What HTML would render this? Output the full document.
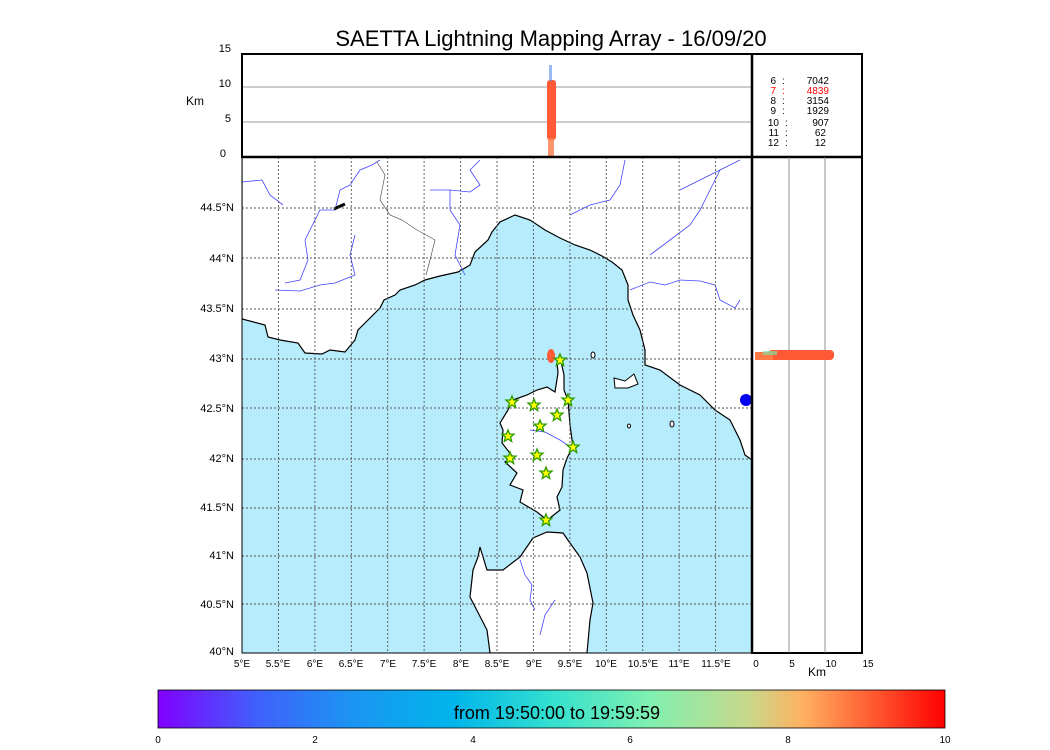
<!DOCTYPE html>
<html><head><meta charset="utf-8"><style>body{margin:0;background:#fff}svg{display:block;font-family:"Liberation Sans",sans-serif}</style></head><body>
<svg width="1050" height="750" viewBox="0 0 1050 750">
<defs>
<linearGradient id="rb" x1="0" x2="1" y1="0" y2="0">
<stop offset="0" stop-color="#8000ff"/><stop offset="0.125" stop-color="#4060fb"/><stop offset="0.25" stop-color="#1a96f2"/><stop offset="0.375" stop-color="#00b5eb"/><stop offset="0.5" stop-color="#33e0d0"/><stop offset="0.625" stop-color="#80f0b0"/><stop offset="0.75" stop-color="#c8d88a"/><stop offset="0.82" stop-color="#ffb060"/><stop offset="1" stop-color="#ff0000"/>
</linearGradient>
<clipPath id="mc"><rect x="242" y="157" width="510" height="496"/></clipPath>
<g id="star"><polygon points="0,-6 1.6,-2 6,-1.9 2.6,1 3.7,5.5 0,3 -3.7,5.5 -2.6,1 -6,-1.9 -1.6,-2" fill="#ffff00" stroke="#2a9a00" stroke-width="1.3"/></g>
</defs>
<text x="551" y="46" font-size="22" text-anchor="middle">SAETTA Lightning Mapping Array - 16/09/20</text>
<g clip-path="url(#mc)">
<rect x="242" y="157" width="510" height="496" fill="#b6ecfb"/>
<polygon fill="#fff" stroke="#000" stroke-width="1.2" points="242,319 265,325 268,337 280,340 298,343 305,353 322,354 330,350 345,352 355,340 358,330 368,320 380,308 384,300 395,295 400,290 415,285 425,280 440,276 458,272 470,265 475,252 488,240 492,232 500,222 515,215 530,220 545,230 560,238 575,245 590,250 602,256 612,262 622,270 628,285 628,300 633,315 640,330 645,350 645,365 660,370 680,385 700,395 715,410 730,420 740,440 745,455 752,460 752,157 242,157"/>
<polygon fill="#fff" stroke="#000" stroke-width="1.2" points="560,357 564,375 564,390 568,400 570,425 573,447 567,458 563,470 562,487 557,497 560,510 550,518 547,520 537,512 520,502 523,490 510,485 517,473 505,462 513,457 502,443 503,430 500,423 508,410 513,400 527,395 537,390 547,387 555,392 558,373 557,362"/>
<polygon fill="#fff" stroke="#000" stroke-width="1.2" points="547,532 563,533 570,543 580,557 587,573 593,603 590,620 587,653 490,653 487,630 470,597 473,570 478,557 480,547 487,570 503,570 520,557 533,538"/>
<polygon fill="#fff" stroke="#000" stroke-width="1" points="614,378 625,381 634,374 638,384 628,388 615,388"/>
<ellipse cx="593" cy="355" rx="2" ry="3" fill="#fff" stroke="#000"/>
<ellipse cx="629" cy="426" rx="1.5" ry="2" fill="#fff" stroke="#000"/>
<ellipse cx="672" cy="424" rx="2" ry="3" fill="#fff" stroke="#000"/>
<g fill="none" stroke="#4444ff" stroke-width="0.8">
<polyline points="242,182 262,180 270,195 283,205"/>
<polyline points="285,283 300,280 308,260 305,240 320,210 335,210 340,190 350,185 360,170 372,165 380,160"/>
<polyline points="275,290 300,291 320,285 335,283 355,275 350,255 355,235"/>
<polyline points="430,190 450,190 470,192 480,185 470,170 480,160"/>
<polyline points="465,275 455,255 460,225 450,210 450,190"/>
<polyline points="570,215 590,205 610,200 620,185 625,160"/>
<polyline points="650,255 670,240 690,225 700,210 710,190 720,170"/>
<polyline points="680,190 700,180 720,170 740,160"/>
<polyline points="630,290 650,282 665,285 680,280 700,281 715,285 720,300 735,308 740,300"/>
<polyline points="530,430 545,432 560,440 572,448"/>
<polyline points="520,560 525,575 532,585 530,600 535,610"/>
<polyline points="555,600 545,615 540,635"/>
</g>
<polyline points="377,162 385,175 380,200 390,215 402,220 417,230 435,240 430,260 426,275" fill="none" stroke="#555" stroke-width="0.7"/>
<path d="M334,209 L345,204" stroke="#000" stroke-width="3"/>
<g stroke="#555" stroke-width="0.9" stroke-dasharray="2,2">
<line x1="278.4" y1="157" x2="278.4" y2="653"/><line x1="314.9" y1="157" x2="314.9" y2="653"/><line x1="351.3" y1="157" x2="351.3" y2="653"/><line x1="387.7" y1="157" x2="387.7" y2="653"/><line x1="424.1" y1="157" x2="424.1" y2="653"/><line x1="460.6" y1="157" x2="460.6" y2="653"/><line x1="497" y1="157" x2="497" y2="653"/><line x1="533.4" y1="157" x2="533.4" y2="653"/><line x1="569.9" y1="157" x2="569.9" y2="653"/><line x1="606.3" y1="157" x2="606.3" y2="653"/><line x1="642.7" y1="157" x2="642.7" y2="653"/><line x1="679.1" y1="157" x2="679.1" y2="653"/><line x1="715.6" y1="157" x2="715.6" y2="653"/>
<line x1="242" y1="208" x2="752" y2="208"/><line x1="242" y1="258" x2="752" y2="258"/><line x1="242" y1="309" x2="752" y2="309"/><line x1="242" y1="359" x2="752" y2="359"/><line x1="242" y1="408" x2="752" y2="408"/><line x1="242" y1="459" x2="752" y2="459"/><line x1="242" y1="508" x2="752" y2="508"/><line x1="242" y1="556" x2="752" y2="556"/><line x1="242" y1="604" x2="752" y2="604"/>
</g>
<ellipse cx="551" cy="356" rx="4" ry="7" fill="#ff5a35"/>
<circle cx="746" cy="400" r="6" fill="#0000ee"/>
<use href="#star" x="560" y="360"/><use href="#star" x="512" y="402"/><use href="#star" x="534" y="405"/><use href="#star" x="568" y="400"/><use href="#star" x="557" y="415"/><use href="#star" x="540" y="426"/><use href="#star" x="508" y="436"/><use href="#star" x="573" y="447"/><use href="#star" x="510" y="458"/><use href="#star" x="537" y="455"/><use href="#star" x="546" y="473"/><use href="#star" x="546" y="520"/>
</g>
<rect x="242" y="157" width="510" height="496" fill="none" stroke="#000" stroke-width="1"/>
<line x1="242" y1="87" x2="752" y2="87" stroke="#777" stroke-width="0.8"/>
<line x1="242" y1="122" x2="752" y2="122" stroke="#777" stroke-width="0.8"/>
<rect x="547" y="80" width="9" height="60" rx="3" fill="#ff5a35"/>
<rect x="548" y="138" width="6" height="19" fill="#ff7a45" opacity="0.8"/>
<rect x="549" y="65" width="3" height="16" fill="#5a8cf0" opacity="0.6"/>
<rect x="242" y="54" width="510" height="103" fill="none" stroke="#000" stroke-width="2"/>
<rect x="752" y="54" width="110" height="599" fill="none" stroke="#000" stroke-width="2"/>
<line x1="752" y1="157" x2="862" y2="157" stroke="#000" stroke-width="2.5"/>
<line x1="242" y1="157" x2="752" y2="157" stroke="#000" stroke-width="2.5"/>
<line x1="752" y1="54" x2="752" y2="653" stroke="#000" stroke-width="2.5"/>
<line x1="789" y1="157" x2="789" y2="653" stroke="#777" stroke-width="0.8"/>
<line x1="825" y1="157" x2="825" y2="653" stroke="#777" stroke-width="0.8"/>
<rect x="768" y="350" width="66" height="10" rx="4" fill="#ff5a35"/>
<rect x="755" y="352" width="18" height="8" fill="#ff7a45"/>
<rect x="763" y="351" width="14" height="4" fill="#7fe0a0" opacity="0.7"/>
<g font-size="11" text-anchor="end">
<text x="231" y="52">15</text><text x="231" y="87">10</text><text x="231" y="122">5</text><text x="226" y="157">0</text>
<text x="234" y="211">44.5°N</text><text x="234" y="262">44°N</text><text x="234" y="312">43.5°N</text><text x="234" y="362">43°N</text><text x="234" y="412">42.5°N</text><text x="234" y="462">42°N</text><text x="234" y="511">41.5°N</text><text x="234" y="559">41°N</text><text x="234" y="608">40.5°N</text><text x="234" y="655">40°N</text>
</g>
<text x="186" y="105" font-size="12">Km</text>
<g font-size="10" text-anchor="middle">
<text x="242" y="667">5°E</text><text x="278" y="667">5.5°E</text><text x="315" y="667">6°E</text><text x="351" y="667">6.5°E</text><text x="388" y="667">7°E</text><text x="424" y="667">7.5°E</text><text x="461" y="667">8°E</text><text x="497" y="667">8.5°E</text><text x="534" y="667">9°E</text><text x="570" y="667">9.5°E</text><text x="606" y="667">10°E</text><text x="643" y="667">10.5°E</text><text x="679" y="667">11°E</text><text x="716" y="667">11.5°E</text>
<text x="756" y="667">0</text><text x="792" y="667">5</text><text x="831" y="667">10</text><text x="868" y="667">15</text>
</g>
<text x="817" y="676" font-size="12" text-anchor="middle">Km</text>
<g font-size="10">
<g text-anchor="end"><text x="776" y="84">6</text><text x="776" y="94" fill="#f00">7</text><text x="776" y="104">8</text><text x="776" y="114">9</text><text x="779" y="126">10</text><text x="779" y="136">11</text><text x="779" y="146">12</text></g>
<text x="782" y="84">:</text><text x="782" y="94" fill="#f00">:</text><text x="782" y="104">:</text><text x="782" y="114">:</text><text x="785" y="126">:</text><text x="785" y="136">:</text><text x="785" y="146">:</text>
<g text-anchor="end"><text x="829" y="84">7042</text><text x="829" y="94" fill="#f00">4839</text><text x="829" y="104">3154</text><text x="829" y="114">1929</text><text x="829" y="126">907</text><text x="826" y="136">62</text><text x="826" y="146">12</text></g>
</g>
<rect x="158" y="690" width="787" height="38" fill="url(#rb)" stroke="#000" stroke-width="0.8"/>
<text x="557" y="719" font-size="18" text-anchor="middle">from 19:50:00 to 19:59:59</text>
<g font-size="10" text-anchor="middle">
<text x="158" y="743">0</text><text x="315" y="743">2</text><text x="473" y="743">4</text><text x="630" y="743">6</text><text x="788" y="743">8</text><text x="945" y="743">10</text>
</g>
</svg>
</body></html>
